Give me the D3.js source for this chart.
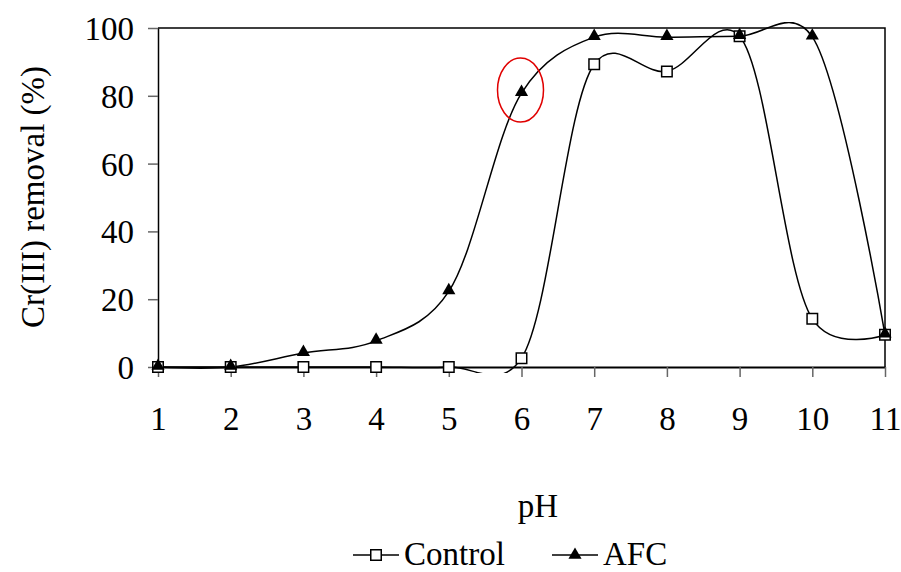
<!DOCTYPE html>
<html>
<head>
<meta charset="utf-8">
<script src="https://cdn.jsdelivr.net/npm/d3@7"></script>
<style>
  body { margin: 0; background: #fff; }
  text { font-family: "Liberation Serif", "Times New Roman", serif; fill: #000; }
</style>
</head>
<body>
<svg id="chart" width="901" height="572"></svg>
<script>
"use strict";
// pH values and removal (%) for each series
const phValues = [1, 2, 3, 4, 5, 6, 7, 8, 9, 10, 11];
const controlValues = [0, 0, 0, 0, 0, 2.6, 89.3, 87.2, 97.6, 14.2, 9.5];
const afcValues = [0, 0, 4.1, 7.7, 22.3, 80.8, 97.3, 97.3, 97.6, 97.4, 9.5];
const yTicks = [0, 20, 40, 60, 80, 100];
const seriesNames = ["Control", "AFC"];

const svg = d3.select("#chart");
const plotLeft = 158, plotRight = 885, plotTop = 28, plotBottom = 367;
const fontSize = "33px";

let x = d3.scaleLinear().domain([1, 11]).range([plotLeft, plotRight]);
let y = d3.scaleLinear().domain([0, 100]).range([plotBottom, plotTop]);

// Frame (top and right edges)
svg.append("path")
    .attr("d", `M${plotLeft},${plotTop}H${plotRight}V${plotBottom}`)
    .style("fill", "none")
    .style("stroke", "#000")
    .style("stroke-width", "1.5px");

// Y axis
let yAxis = svg.append("g")
    .attr("transform", `translate(${plotLeft},0)`)
    .call(d3.axisLeft(y).tickValues(yTicks).tickSize(10).tickPadding(14).tickSizeOuter(0));
yAxis.select(".domain").style("stroke", "#000").style("stroke-width", "1.5px");
yAxis.selectAll(".tick line").style("stroke", "#666").style("stroke-width", "1.5px");
yAxis.selectAll(".tick text")
    .style("font-size", fontSize)
    .attr("dy", "0.35em");

// X axis
let xAxis = svg.append("g")
    .attr("transform", `translate(0,${plotBottom})`)
    .call(d3.axisBottom(x).tickValues(phValues).tickSize(10).tickPadding(30).tickSizeOuter(0));
xAxis.select(".domain").style("stroke", "#000").style("stroke-width", "2px");
xAxis.selectAll(".tick line").style("stroke", "#666").style("stroke-width", "1.5px");
xAxis.selectAll(".tick text")
    .style("font-size", fontSize);

// Axis titles
svg.append("text")
    .attr("x", 538).attr("y", 517)
    .style("font-size", fontSize)
    .style("text-anchor", "middle")
    .text("pH");
svg.append("text")
    .attr("transform", "translate(44,197) rotate(-90)")
    .style("font-size", fontSize)
    .style("text-anchor", "middle")
    .text("Cr(III) removal (%)");

// Clip so the smoothed overshoot is trimmed a little outside the plot box
svg.append("clipPath").attr("id", "plotclip")
    .append("rect")
    .attr("x", plotLeft - 10).attr("y", plotTop - 6)
    .attr("width", plotRight - plotLeft + 20).attr("height", plotBottom - plotTop + 12);

let line = d3.line()
    .x((d, i) => x(phValues[i]))
    .y(d => y(d))
    .curve(d3.curveCatmullRom.alpha(0.2));

let lines = svg.append("g").attr("clip-path", "url(#plotclip)");
[controlValues, afcValues].forEach(vals => {
    lines.append("path")
        .attr("d", line(vals))
        .style("fill", "none")
        .style("stroke", "#000")
        .style("stroke-width", "1.5px");
});

// Markers
let squareSym = d3.symbol().type(d3.symbolSquare).size(110);
let triSym = d3.symbol().type(d3.symbolTriangle).size(75);

svg.append("g").selectAll(".ctrl_pt").data(controlValues).enter()
    .append("path")
    .attr("class", "ctrl_pt")
    .attr("d", squareSym)
    .attr("transform", (d, i) => `translate(${x(phValues[i])},${y(d)})`)
    .style("fill", "#fff")
    .style("stroke", "#000")
    .style("stroke-width", "1.5px");

svg.append("g").selectAll(".afc_pt").data(afcValues).enter()
    .append("path")
    .attr("class", "afc_pt")
    .attr("d", triSym)
    .attr("transform", (d, i) => `translate(${x(phValues[i])},${y(d) - 1})`)
    .style("fill", "#000");

// Red ellipse highlighting AFC at pH 6
svg.append("ellipse")
    .attr("cx", x(6) - 1).attr("cy", y(afcValues[5]) - 3)
    .attr("rx", 23).attr("ry", 32)
    .style("fill", "none")
    .style("stroke", "#e00000")
    .style("stroke-width", "1.5px");

// Legend
let legend = svg.append("g").attr("transform", "translate(0,555)");
let legendItems = [
    {name: seriesNames[0], x0: 353, sym: squareSym, fill: "#fff"},
    {name: seriesNames[1], x0: 552, sym: triSym, fill: "#000"}
];
legendItems.forEach(it => {
    legend.append("line")
        .attr("x1", it.x0).attr("x2", it.x0 + 46)
        .attr("y1", 0).attr("y2", 0)
        .style("stroke", "#000").style("stroke-width", "1.5px");
    legend.append("path")
        .attr("d", it.sym)
        .attr("transform", `translate(${it.x0 + 23},0)`)
        .style("fill", it.fill)
        .style("stroke", "#000")
        .style("stroke-width", it.fill === "#fff" ? "1.5px" : "0px");
    legend.append("text")
        .attr("x", it.x0 + 51).attr("y", 10)
        .style("font-size", fontSize)
        .text(it.name);
});
</script>
</body>
</html>
